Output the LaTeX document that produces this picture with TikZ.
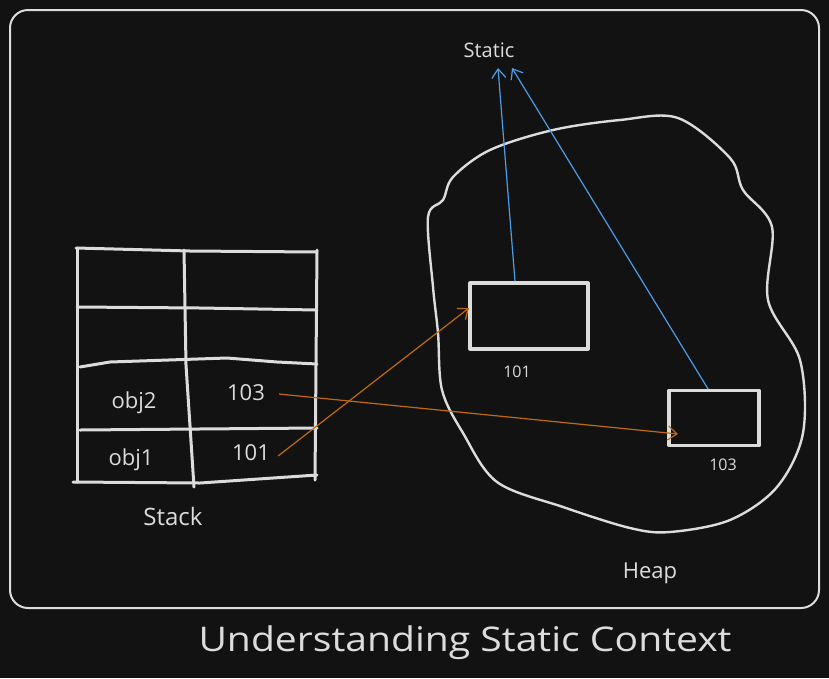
\documentclass[tikz,border=0pt]{standalone}
\usepackage{fontspec}
\setmainfont{Open Sans}
\usetikzlibrary{arrows.meta}
\definecolor{bg}{HTML}{121212}
\definecolor{ink}{HTML}{DCDCDC}
\definecolor{orng}{HTML}{C26A0C}
\definecolor{blu}{HTML}{4C9DE8}
\tikzset{
  ink/.style={draw=ink, line cap=round, line join=round},
  lbl/.style={text=ink, inner sep=0pt, font=\fontsize{22}{24}\selectfont},
  small/.style={text=ink, inner sep=0pt, font=\fontsize{16}{18}\selectfont},
  objbox/.style={ink, line width=3.2pt, minimum width=#1, inner sep=0pt},
  oarr/.style={draw=orng, line width=1.2pt, -{Straight Barb[length=9pt,width=14pt]}},
  barr/.style={draw=blu, line width=1.2pt, -{Straight Barb[length=9pt,width=14pt]}},
}
\begin{document}
\begin{tikzpicture}[x=1pt,y=-1pt]
\fill[bg] (0,0) rectangle (829,678);
\useasboundingbox (0,0) rectangle (829,678);
% frame
\draw[ink, line width=2pt, rounded corners=18pt] (10,10) rectangle (819,608);
% stack table
\draw[ink, line width=3pt] (77,248) -- (77,482);
\draw[ink, line width=3pt] (184,250) -- (186,365) -- (194,487);
\draw[ink, line width=3pt] (317,250) -- (315,480);
\draw[ink, line width=3pt] (76,248) -- (190,251) -- (317,252);
\draw[ink, line width=3pt] (77,307) -- (200,308) -- (317,310);
\draw[ink, line width=3pt] (80,367) -- (110,362) -- (227,358) -- (277,362) -- (317,364);
\draw[ink, line width=3pt] (80,430) -- (317,428);
\draw[ink, line width=3pt] (73,482) -- (200,483) -- (317,475);
\node[lbl] (o2) at (134,403) {obj2};
\node[lbl] (v103) at (246,393) {103};
\node[lbl] (o1) at (131,460) {obj1};
\node[lbl] (v101) at (251,453) {101};
\node[lbl, font=\fontsize{24}{26}\selectfont] (stack) at (173,516) {Stack};
% heap blob
\draw[ink, line width=2.4pt] plot[smooth cycle, tension=0.55] coordinates {
(678,118) (730,158) (743,190) (772,227) (768,300) (800,360) (803,433)
(777,487) (730,520) (670,532) (630,528) (563,507) (497,482) (463,433)
(442,390) (438,333) (433,287) (428,217) (443,200) (453,177) (490,150)
(553,130) (620,120)};
\node[lbl] (heap) at (650,573) {Heap};
% object boxes
\node[objbox=118pt, minimum height=66pt] (b101) at (529,316) {};
\node[objbox=90pt, minimum height=55pt] (b103) at (714,418) {};
\node[small] (l101) at (517,372) {101};
\node[small] (l103) at (723,465) {103};
% static
\node[small, font=\fontsize{20}{22}\selectfont] (static) at (489,50) {Static};
\coordinate (t1) at (498,68);
\coordinate (t2) at (512,68);
\draw[barr] ([xshift=-14pt]b101.north) -- (t1);
\draw[barr] ([xshift=-6pt]b103.north) -- (t2);
% orange references
\coordinate (h101) at (469,308);
\coordinate (h103) at (678,434);
\draw[oarr] ([shift={(8pt,-3pt)}]v101.east) -- (h101);
\draw[oarr] ([shift={(14pt,-1pt)}]v103.east) -- (h103);
% title
\node[text=ink, inner sep=0pt, font=\fontsize{34}{38}\selectfont, xscale=1.15, transform shape] (title) at (465,643) {Understanding Static Context};
\end{tikzpicture}
\end{document}
